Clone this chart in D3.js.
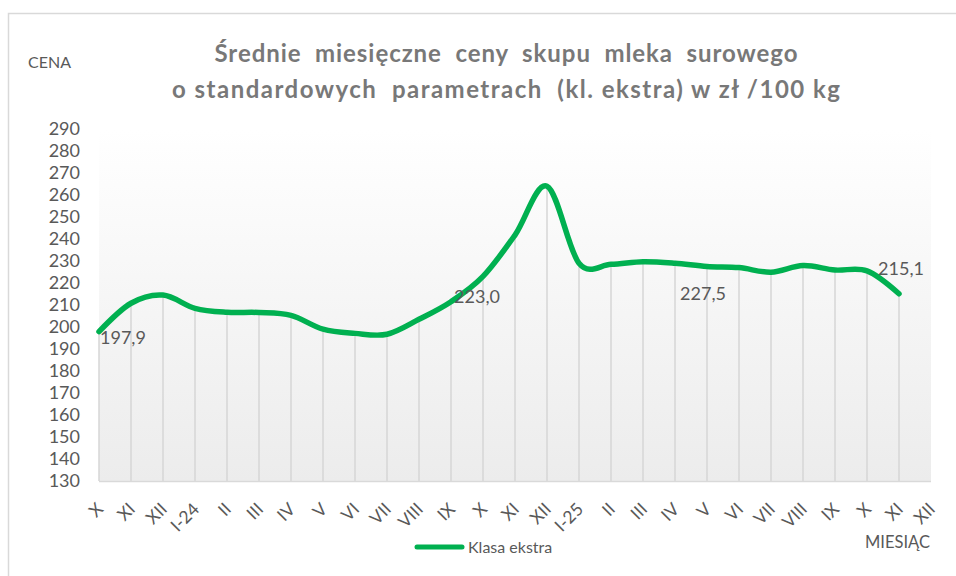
<!DOCTYPE html>
<html>
<head>
<meta charset="utf-8">
<script src="https://cdn.jsdelivr.net/npm/d3@7"></script>
<style>
  body { margin: 0; background: #fff; }
  svg { display: block; font-family: Lato, "Open Sans", sans-serif; }
</style>
</head>
<body>
<svg id="chart" width="956" height="576"></svg>
<script>
// Month labels (Oct 2023 .. Dec 2025)
const months = ['X', 'XI', 'XII', 'I-24', 'II', 'III', 'IV', 'V', 'VI', 'VII', 'VIII', 'IX',
                'X', 'XI', 'XII', 'I-25', 'II', 'III', 'IV', 'V', 'VI', 'VII', 'VIII', 'IX',
                'X', 'XI', 'XII'];

// Price, zł/100 kg, last month has no value yet
const prices = [197.9, 210.8, 214.5, 208.5, 206.7, 206.6, 205.3, 199.0, 197.1, 196.7, 203.5, 211.5,
                223.0, 241.8, 264.0, 229.0, 228.5, 229.7, 229.0, 227.5, 227.0, 224.9, 227.9, 225.9,
                225.5, 215.1, null];

const yTicks = [130, 140, 150, 160, 170, 180, 190, 200, 210, 220, 230, 240, 250, 260, 270, 280, 290];

// Which points carry a value label
const labelled = [0, 12, 19, 25];

const titleLines = ['Średnie  miesięczne  ceny  skupu  mleka  surowego',
                    'o standardowych  parametrach  (kl. ekstra) w zł /100 kg'];
const seriesName = 'Klasa ekstra';

const svg = d3.select('#chart');
const plot = { left: 99, right: 931, top: 129, bottom: 481 };
const green = '#00b050';
const textGrey = '#595959';

const x = d3.scalePoint().domain(d3.range(months.length)).range([plot.left, plot.right]);
const y = d3.scaleLinear().domain([130, 290]).range([plot.bottom, plot.top]);

// Chart frame (runs off the right and bottom of the window)
svg.append('rect')
  .attr('x', 8.5).attr('y', 13.5)
  .attr('width', 1000).attr('height', 700)
  .attr('fill', 'none')
  .attr('stroke', '#d9d9d9')
  .attr('stroke-width', 1.5);

// Plot area gradient
const grad = svg.append('defs').append('linearGradient')
  .attr('id', 'bg').attr('x1', 0).attr('y1', 0).attr('x2', 0).attr('y2', 1);
grad.append('stop').attr('offset', '0%').attr('stop-color', '#ffffff');
grad.append('stop').attr('offset', '100%').attr('stop-color', '#ececec');

svg.append('rect')
  .attr('x', plot.left).attr('y', plot.top)
  .attr('width', plot.right - plot.left)
  .attr('height', plot.bottom - plot.top)
  .attr('fill', 'url(#bg)');

// Title, stretched to the width it has in the original
const titleWidths = [583, 668];
svg.append('g')
  .selectAll('text')
  .data(titleLines)
  .join('text')
  .attr('x', 506)
  .attr('y', (d, i) => 62 + i * 36)
  .attr('text-anchor', 'middle')
  .attr('font-size', 24)
  .attr('font-weight', 'bold')
  .attr('fill', '#787878')
  .attr('textLength', (d, i) => titleWidths[i])
  .attr('lengthAdjust', 'spacing')
  .style('white-space', 'pre')
  .text(d => d);

svg.append('text')
  .attr('x', 28).attr('y', 68)
  .attr('font-size', 16)
  .attr('fill', textGrey)
  .text('CENA');

// Drop lines from each point to the axis
const points = prices.map((v, i) => ({ i, v })).filter(d => d.v !== null);

svg.append('g')
  .selectAll('line')
  .data(points)
  .join('line')
  .attr('x1', d => x(d.i)).attr('x2', d => x(d.i))
  .attr('y1', d => y(d.v)).attr('y2', plot.bottom)
  .attr('stroke', '#d6d6d6')
  .attr('stroke-width', 1.5);

// Axis line
svg.append('line')
  .attr('x1', plot.left).attr('x2', plot.right)
  .attr('y1', plot.bottom + 0.5).attr('y2', plot.bottom + 0.5)
  .attr('stroke', '#d9d9d9')
  .attr('stroke-width', 1.5);

// Y axis labels
const yAxis = svg.append('g')
  .attr('transform', `translate(${plot.left}, 0)`)
  .call(d3.axisLeft(y).tickValues(yTicks).tickSize(0).tickPadding(19).tickFormat(d3.format('d')));
yAxis.select('.domain').remove();
yAxis.selectAll('text')
  .attr('font-family', 'Lato, sans-serif')
  .attr('font-size', 18)
  .attr('fill', textGrey);

// X axis labels, rotated -45° (each in its own positioned group)
const c45 = Math.SQRT1_2;
svg.append('g')
  .selectAll('g')
  .data(months)
  .join('g')
  .attr('transform', (d, i) => `matrix(${c45} ${-c45} ${c45} ${c45} ${x(i) + 1} ${plot.bottom + 25})`)
  .append('text')
  .attr('text-anchor', 'end')
  .attr('dy', '0.35em')
  .attr('font-size', 17.5)
  .attr('fill', textGrey)
  .text(d => d);

// Smoothed line
const line = d3.line()
  .x(d => x(d.i))
  .y(d => y(d.v))
  .curve(d3.curveCatmullRom.alpha(0));

svg.append('path')
  .datum(points)
  .attr('d', line)
  .attr('fill', 'none')
  .attr('stroke', green)
  .attr('stroke-width', 5.5)
  .attr('stroke-linecap', 'round')
  .attr('stroke-linejoin', 'round');

// Value labels
const fmt = v => d3.format('.1f')(v).replace('.', ',');
const labelPos = {
  0: { anchor: 'start', dx: 1, dy: 12 },
  12: { anchor: 'middle', dx: -6, dy: 27 },
  19: { anchor: 'middle', dx: -4, dy: 33 },
  25: { anchor: 'middle', dx: 2, dy: -19 }
};

svg.append('g')
  .selectAll('text')
  .data(labelled)
  .join('text')
  .attr('x', i => x(i) + labelPos[i].dx)
  .attr('y', i => y(prices[i]) + labelPos[i].dy)
  .attr('text-anchor', i => labelPos[i].anchor)
  .attr('font-size', 18)
  .attr('fill', textGrey)
  .text(i => fmt(prices[i]));

// Legend
svg.append('line')
  .attr('x1', 417).attr('x2', 462)
  .attr('y1', 547).attr('y2', 547)
  .attr('stroke', green)
  .attr('stroke-width', 5)
  .attr('stroke-linecap', 'round');

svg.append('text')
  .attr('x', 468).attr('y', 553)
  .attr('font-size', 16)
  .attr('fill', textGrey)
  .text(seriesName);

svg.append('text')
  .attr('x', 865).attr('y', 548)
  .attr('font-size', 16.5)
  .attr('fill', textGrey)
  .text('MIESIĄC');
</script>
</body>
</html>
